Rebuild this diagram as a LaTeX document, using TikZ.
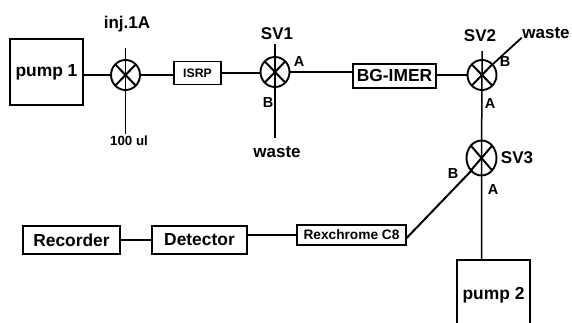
\documentclass[tikz,border=0pt]{standalone}
\usepackage{fontspec}
\setmainfont{Liberation Sans}
\usetikzlibrary{shapes.geometric}

\begin{document}
\begin{tikzpicture}[
        x=1pt, y=-1pt,
        line width=1.5pt,
        % Boxes carry the sizes measured from the layout
        unitbox/.style={draw, inner sep=0pt, font=\bfseries\fontsize{17.4}{17}\selectfont},
        pumpbox/.style={unitbox, line width=1.6pt, minimum width=73pt},
        valve/.style={draw, ellipse, inner sep=0pt, line width=1.9pt, minimum width=29pt, minimum height=30pt,
            path picture={
                \draw[line width=2pt] (path picture bounding box.south west) -- (path picture bounding box.north east);
                \draw[line width=2pt] (path picture bounding box.north west) -- (path picture bounding box.south east);
            }},
        bigtext/.style={inner sep=0pt, font=\bfseries\fontsize{17}{17}\selectfont},
        porttext/.style={inner sep=0pt, font=\bfseries\fontsize{14.5}{15}\selectfont}
    ]
    \useasboundingbox (0,0) rectangle (572,322);

    % Units
    \node[pumpbox, minimum height=66pt] (pumpone) at (46.5,72) {\raisebox{-3pt}{pump 1}};
    \node[pumpbox, minimum height=70pt] (pumptwo) at (493.5,295) {pump 2};
    \node[unitbox, minimum width=47pt, minimum height=23pt, font=\bfseries\fontsize{12.3}{13}\selectfont] (isrp) at (197.5,73) {ISRP};
    \node[unitbox, minimum width=83pt, minimum height=24pt] (bgimer) at (394.5,76) {BG-IMER};
    \node[unitbox, minimum width=109pt, minimum height=20pt, font=\bfseries\fontsize{13.7}{14}\selectfont] (rexchrome) at (351.5,235) {Rexchrome C8};
    \node[unitbox, minimum width=95pt, minimum height=28pt] (detector) at (199.5,240) {Detector};
    \node[unitbox, minimum width=97pt, minimum height=28pt] (recorder) at (71.5,240) {Recorder};

    % Valves
    \node[valve] (inj) at (125.5,75) {};
    \node[valve] (svone) at (275,72) {};
    \node[valve] (svtwo) at (482,75) {};
    \node[valve, minimum width=30pt, minimum height=35pt] (svthree) at (481.5,158) {};

    % Free ends
    \coordinate (injtop) at (125.5,48);
    \coordinate (injlow) at (125.5,134);
    \coordinate (svonetop) at (275,44);
    \coordinate (svonelow) at (275,138);
    \coordinate (svtwotop) at (482,51);
    \coordinate (svtwowaste) at (521.7,37.7);

    % Connectors
    \draw (inj.west) -- (inj.west -| pumpone.east);
    \draw (inj.east) -- (inj.east -| isrp.west);
    \draw (isrp.east) -- (isrp.east -| svone.west);
    \draw (svone.east) -- (svone.east -| bgimer.west);
    \draw (bgimer.east |- svtwo.west) -- (svtwo.west);
    \draw (injtop) -- (injlow);
    \draw (svonetop) -- (svonelow);
    \draw (svtwotop) -- (svtwo.center) -- (svthree.center) -- (svthree.center |- pumptwo.north);
    \draw[line width=1.8pt] (svtwo.45) -- (svtwowaste);
    \draw[line width=2pt] (svthree.center) ++(-9.5,12) -- (rexchrome.-3);
    \draw (rexchrome.west) -- (rexchrome.west -| detector.east);
    \draw (detector.west) -- (recorder.east);

    % Labels
    \node[bigtext] (injlabel) at (127,24) {inj.1A};
    \node[bigtext] (svonelabel) at (277,34) {SV1};
    \node[bigtext] (svtwolabel) at (480,36) {SV2};
    \node[bigtext] (svthreelabel) at (517,158) {SV3};
    \node[bigtext] (wasteone) at (277,152) {waste};
    \node[bigtext] (wastetwo) at (546,33) {waste};
    \node[porttext, font=\bfseries\fontsize{13.3}{14}\selectfont] (volume) at (129,141) {100 ul};
    \node[porttext] (svonea) at (299,62) {A};
    \node[porttext] (svoneb) at (268,103) {B};
    \node[porttext] (svtwoa) at (490,104) {A};
    \node[porttext] (svtwob) at (505,62) {B};
    \node[porttext] (svthreea) at (493,190) {A};
    \node[porttext] (svthreeb) at (453,174) {B};
\end{tikzpicture}
\end{document}
